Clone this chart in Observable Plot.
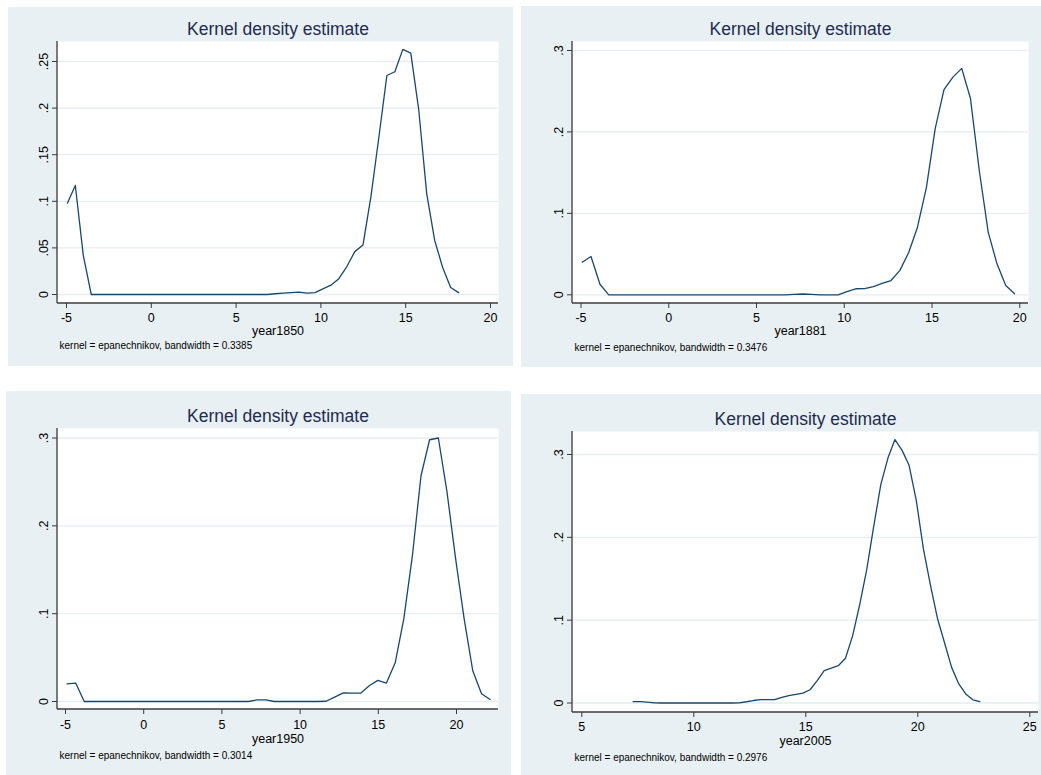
<!DOCTYPE html>
<html>
<head>
<meta charset="utf-8">
<script src="https://cdn.jsdelivr.net/npm/d3@7"></script>
<script src="https://cdn.jsdelivr.net/npm/@observablehq/plot@0.6"></script>
<style>
  html, body { margin: 0; padding: 0; background: #ffffff; }
  body { width: 1041px; height: 775px; position: relative; overflow: hidden;
         font-family: "Liberation Sans", Arial, Helvetica, sans-serif; }
  .panel { position: absolute; background: #e8f0f3; }
  .panel svg { display: block; }
</style>
</head>
<body>
<script>
// ---------- DATA ----------
const titleText = "Kernel density estimate";

// year1850
const x1850 = [-4.95, -4.48, -4.01, -3.54, -3.07, -2.60, -2.12, -1.65, -1.18, -0.71,
  -0.24, 0.23, 0.70, 1.17, 1.64, 2.12, 2.59, 3.06, 3.53, 4.00,
  4.47, 4.94, 5.41, 5.88, 6.35, 6.83, 7.30, 7.77, 8.24, 8.71,
  9.18, 9.65, 10.12, 10.59, 11.06, 11.53, 12.00, 12.48, 12.95, 13.42,
  13.89, 14.36, 14.83, 15.30, 15.77, 16.24, 16.71, 17.18, 17.65, 18.12];
const d1850 = [0.098, 0.117, 0.042, 0, 0, 0, 0, 0, 0, 0,
  0, 0, 0, 0, 0, 0, 0, 0, 0, 0,
  0, 0, 0, 0, 0, 0, 0.0008, 0.0015, 0.002, 0.0025,
  0.0015, 0.002, 0.006, 0.010, 0.017, 0.030, 0.046, 0.053, 0.105, 0.169,
  0.235, 0.239, 0.263, 0.259, 0.198, 0.108, 0.058, 0.029, 0.0075, 0.002];
const xTicks1850 = [-5, 0, 5, 10, 15, 20];
const yTicks1850 = [0, 0.05, 0.1, 0.15, 0.2, 0.25];
const note1850 = "kernel = epanechnikov, bandwidth = 0.3385";

// year1881
const x1881 = [-4.93, -4.43, -3.92, -3.42, -2.92, -2.42, -1.91, -1.41, -0.91, -0.41,
  0.10, 0.60, 1.10, 1.61, 2.11, 2.61, 3.11, 3.62, 4.12, 4.62,
  5.12, 5.63, 6.13, 6.63, 7.13, 7.64, 8.14, 8.64, 9.15, 9.65,
  10.15, 10.65, 11.16, 11.66, 12.16, 12.66, 13.17, 13.67, 14.17, 14.68,
  15.18, 15.68, 16.18, 16.69, 17.19, 17.69, 18.20, 18.70, 19.20, 19.70];
const d1881 = [0.040, 0.047, 0.013, 0, 0, 0, 0, 0, 0, 0,
  0, 0, 0, 0, 0, 0, 0, 0, 0, 0,
  0, 0, 0, 0, 0.0005, 0.001, 0.0005, 0, 0, 0,
  0.004, 0.0074, 0.0076, 0.010, 0.014, 0.0175, 0.030, 0.052, 0.083, 0.132,
  0.204, 0.252, 0.267, 0.278, 0.241, 0.153, 0.077, 0.038, 0.0114, 0.0012];
const xTicks1881 = [-5, 0, 5, 10, 15, 20];
const yTicks1881 = [0, 0.1, 0.2, 0.3];
const note1881 = "kernel = epanechnikov, bandwidth = 0.3476";

// year1950
const x1950 = [-4.90, -4.35, -3.80, -3.24, -2.69, -2.14, -1.59, -1.04, -0.48, 0.07,
  0.62, 1.17, 1.72, 2.28, 2.83, 3.38, 3.93, 4.48, 5.04, 5.59,
  6.14, 6.69, 7.24, 7.80, 8.35, 8.90, 9.45, 10.00, 10.56, 11.11,
  11.66, 12.21, 12.76, 13.32, 13.87, 14.42, 14.97, 15.52, 16.08, 16.63,
  17.18, 17.73, 18.28, 18.84, 19.39, 19.94, 20.49, 21.04, 21.60, 22.15];
const d1950 = [0.020, 0.021, 0, 0, 0, 0, 0, 0, 0, 0,
  0, 0, 0, 0, 0, 0, 0, 0, 0, 0,
  0, 0, 0.0018, 0.0018, 0, 0, 0, 0, 0, 0,
  0.0003, 0.005, 0.0099, 0.0095, 0.0095, 0.018, 0.024, 0.021, 0.044, 0.094,
  0.166, 0.257, 0.298, 0.300, 0.239, 0.163, 0.094, 0.035, 0.0088, 0.0023];
const xTicks1950 = [-5, 0, 5, 10, 15, 20];
const yTicks1950 = [0, 0.1, 0.2, 0.3];
const note1950 = "kernel = epanechnikov, bandwidth = 0.3014";

// year2005
const x2005 = [7.29, 7.61, 7.92, 8.24, 8.55, 8.87, 9.19, 9.50, 9.82, 10.13,
  10.45, 10.77, 11.08, 11.40, 11.71, 12.03, 12.35, 12.66, 12.98, 13.29,
  13.61, 13.93, 14.24, 14.56, 14.87, 15.19, 15.51, 15.82, 16.14, 16.45,
  16.77, 17.09, 17.40, 17.72, 18.03, 18.35, 18.67, 18.98, 19.30, 19.61,
  19.93, 20.25, 20.56, 20.88, 21.19, 21.51, 21.83, 22.14, 22.46, 22.77];
const d2005 = [0.0016, 0.0016, 0.001, 0.0002, 0, 0, 0, 0, 0, 0,
  0, 0, 0, 0, 0, 0.0002, 0.0015, 0.003, 0.004, 0.004,
  0.004, 0.0068, 0.009, 0.0105, 0.012, 0.016, 0.027, 0.039, 0.042, 0.045,
  0.054, 0.081, 0.118, 0.161, 0.213, 0.264, 0.296, 0.318, 0.305, 0.287,
  0.245, 0.186, 0.143, 0.102, 0.073, 0.043, 0.023, 0.011, 0.0038, 0.0018];
const xTicks2005 = [5, 10, 15, 20, 25];
const yTicks2005 = [0, 0.1, 0.2, 0.3];
const note2005 = "kernel = epanechnikov, bandwidth = 0.2976";

// ---------- STYLE ----------
const FONT = '"Liberation Sans", Arial, Helvetica, sans-serif';
const LINE = "#1a476f";
const AXIS = "#3a3a3a";
const GRID = "#e6eef1";
const TITLE = "#1f2b50";

const fmtY = d => d === 0 ? "0" : String(d).replace(/^0\./, ".");

const panels = [
  {label: "year1850", xs: x1850, ys: d1850, xTicks: xTicks1850, yTicks: yTicks1850, note: note1850,
   left: 8, top: 7, w: 505, h: 359, mL: 49, mR: 15, mT: 34, mB: 63,
   iL: 9, iR: 8, iT: 20, iB: 9, xDomain: [-5, 20], yDomain: [0, 0.25],
   tickPad: 4.5, labDy: 22.5, noteDy: 38.7},
  {label: "year1881", xs: x1881, ys: d1881, xTicks: xTicks1881, yTicks: yTicks1881, note: note1881,
   left: 521, top: 6, w: 520, h: 361, mL: 51, mR: 13, mT: 35, mB: 64,
   iL: 8.5, iR: 8.7, iT: 9, iB: 8.7, xDomain: [-5, 20], yDomain: [0, 0.3],
   tickPad: 4.5, labDy: 23, noteDy: 40},
  {label: "year1950", xs: x1950, ys: d1950, xTicks: xTicks1950, yTicks: yTicks1950, note: note1950,
   left: 6, top: 391, w: 505, h: 384, mL: 51, mR: 13, mT: 37, mB: 66,
   iL: 8, iR: 42, iT: 9.5, iB: 8, xDomain: [-5, 20], yDomain: [0, 0.3],
   tickPad: 5.5, labDy: 24.5, noteDy: 42.7},
  {label: "year2005", xs: x2005, ys: d2005, xTicks: xTicks2005, yTicks: yTicks2005, note: note2005,
   left: 521, top: 394, w: 520, h: 381, mL: 51, mR: 3, mT: 37, mB: 63,
   iL: 9.3, iR: 8.7, iT: 23, iB: 9.5, xDomain: [5, 25], yDomain: [0, 0.3],
   tickPad: 4.8, labDy: 23.5, noteDy: 41.6}
];

function axisLines(index, scales, values, dim) {
  const l = dim.marginLeft, r = dim.width - dim.marginRight;
  const t = dim.marginTop, b = dim.height - dim.marginBottom;
  const g = d3.create("svg:g").attr("stroke", AXIS).attr("stroke-width", 1.3).attr("fill", "none");
  g.append("line").attr("x1", l).attr("x2", r).attr("y1", b).attr("y2", b);
  g.append("line").attr("x1", l).attr("x2", l).attr("y1", t).attr("y2", b);
  return g.node();
}

for (const p of panels) {
  const data = p.xs.map((x, i) => ({x, y: p.ys[i]}));
  const div = document.createElement("div");
  div.className = "panel";
  Object.assign(div.style, {left: p.left + "px", top: p.top + "px", width: p.w + "px", height: p.h + "px"});
  const svg = Plot.plot({
    width: p.w, height: p.h,
    marginLeft: p.mL, marginRight: p.mR, marginTop: p.mT, marginBottom: p.mB,
    style: {background: "transparent", fontFamily: FONT, fontSize: "12px", color: "#000", overflow: "visible"},
    x: {domain: p.xDomain, insetLeft: p.iL, insetRight: p.iR},
    y: {domain: p.yDomain, insetTop: p.iT, insetBottom: p.iB},
    marks: [
      Plot.frame({fill: "#ffffff", stroke: null}),
      Plot.gridY(p.yTicks, {stroke: GRID, strokeOpacity: 1, strokeWidth: 1.3}),
      Plot.line(data, {x: "x", y: "y", stroke: LINE, strokeWidth: 1.3}),
      axisLines,
      Plot.axisX(p.xTicks, {tickSize: 5, tickPadding: p.tickPad, stroke: AXIS, fill: "#000",
        fontSize: 12.5, label: null, tickFormat: d => String(d)}),
      Plot.axisY(p.yTicks, {tickSize: 5, tickPadding: 5, tickRotate: -90, stroke: AXIS, fill: "#000",
        fontSize: 12.5, label: null, tickFormat: fmtY}),
      Plot.text([titleText], {text: d => d, frameAnchor: "top", lineAnchor: "bottom", dy: -7,
        fontSize: 17.5, fill: TITLE}),
      Plot.text([p.label], {text: d => d, frameAnchor: "bottom", lineAnchor: "top", dy: p.labDy,
        fontSize: 12.5, fill: "#000"}),
      Plot.text([p.note], {text: d => d, frameAnchor: "bottom-left", textAnchor: "start", lineAnchor: "top",
        dx: 2, dy: p.noteDy, fontSize: 10, fill: "#000"})
    ]
  });
  div.appendChild(svg);
  document.body.appendChild(div);
}
</script>
</body>
</html>
